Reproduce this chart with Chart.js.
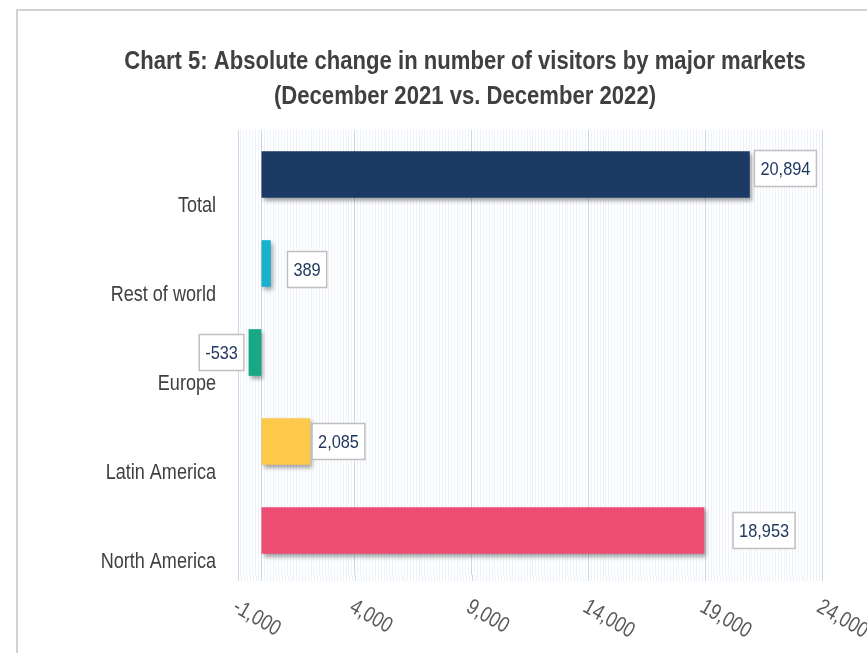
<!DOCTYPE html>
<html>
<head>
<meta charset="utf-8">
<script src="https://cdn.jsdelivr.net/npm/chart.js@4.4.1/dist/chart.umd.min.js"></script>
<style>
  html, body { margin: 0; padding: 0; background: #ffffff; overflow: hidden; }
  #frame { position: absolute; left: 16px; top: 9px; width: 900px; height: 700px;
           border-top: 2px solid #d2d2d2; border-left: 2px solid #d2d2d2; box-sizing: border-box; }
  #c { position: absolute; left: 0; top: 0; }
</style>
</head>
<body>
<div id="frame"></div>
<canvas id="c" width="867" height="653"></canvas>
<script>
const titleLines = ['Chart 5: Absolute change in number of visitors by major markets',
                    '(December 2021 vs. December 2022)'];
const categories = ['Total', 'Rest of world', 'Europe', 'Latin America', 'North America'];
const values = [20894, 389, -533, 2085, 18953];
const tickValues = [-1000, 4000, 9000, 14000, 19000, 24000];
const tickLabels = ['-1,000', '4,000', '9,000', '14,000', '19,000', '24,000'];

const SANS = '"Liberation Sans", Arial, sans-serif';
const NARROW_SCALE = 0.82;

// draw horizontally condensed text (Arial Narrow look-alike)
function narrowText(ctx, txt, x, y, align, sx) {
  ctx.save();
  ctx.translate(x, y);
  ctx.scale(sx, 1);
  ctx.textAlign = align;
  ctx.fillText(txt, 0, 0);
  ctx.restore();
}

const titlePlugin = {
  id: 'narrowTitle',
  afterDraw(chart) {
    const ctx = chart.ctx;
    ctx.save();
    ctx.font = 'bold 26px ' + SANS;
    ctx.fillStyle = '#404040';
    ctx.textBaseline = 'middle';
    const cx = 465;
    narrowText(ctx, titleLines[0], cx, 62, 'center', 0.85);
    narrowText(ctx, titleLines[1], cx, 97, 'center', 0.85);
    ctx.restore();
  }
};

const gridExtend = {
  id: 'gridExtend',
  beforeDatasetsDraw(chart) {
    const xs = chart.scales.x, ca = chart.chartArea, ctx = chart.ctx;
    ctx.save();
    xs.ticks.forEach(t => {
      const px = Math.round(xs.getPixelForValue(t.value)) + 0.5;
      const major = ((t.value + 1000) % 5000 === 0) || t.value === 0;
      ctx.strokeStyle = major ? '#c9d7ee' : 'rgba(205,218,238,0.35)';
      ctx.lineWidth = 1;
      ctx.beginPath(); ctx.moveTo(px, ca.bottom); ctx.lineTo(px, ca.bottom + 6); ctx.stroke();
    });
    ctx.restore();
    ctx.save();
    ctx.shadowColor = 'rgba(0,0,0,0.35)';
    ctx.shadowBlur = 4;
    ctx.shadowOffsetX = 2;
    ctx.shadowOffsetY = 3;
  },
  afterDatasetsDraw(chart) {
    chart.ctx.restore();
  }
};

const valueBoxes = {
  id: 'valueBoxes',
  afterDatasetsDraw(chart, args, opts) {
    const ctx = chart.ctx;
    const meta = chart.getDatasetMeta(0);
    ctx.save();
    ctx.font = '19px ' + SANS;
    meta.data.forEach((bar, i) => {
      const v = chart.data.datasets[0].data[i];
      const txt = v.toLocaleString('en-US');
      const w = ctx.measureText(txt).width * 0.86 + 12;
      const h = 36;
      const gap = opts.gaps[i];
      const cy = bar.y + opts.dys[i];
      const left = v >= 0 ? bar.x + gap : bar.x - gap - w;
      ctx.fillStyle = '#ffffff';
      ctx.fillRect(left, cy - h / 2, w, h);
      ctx.strokeStyle = '#bfbfbf';
      ctx.lineWidth = 1.5;
      ctx.strokeRect(left, cy - h / 2, w, h);
      ctx.fillStyle = '#21395e';
      ctx.textBaseline = 'middle';
      narrowText(ctx, txt, left + w / 2, cy + 1, 'center', 0.86);
    });
    ctx.restore();
  }
};

const axisLabels = {
  id: 'axisLabels',
  afterDraw(chart) {
    const xs = chart.scales.x, ys = chart.scales.y, ctx = chart.ctx;
    ctx.save();
    // category labels, set below the bar centre as in the original
    ctx.font = '22px ' + SANS;
    ctx.fillStyle = '#404040';
    ctx.textBaseline = 'middle';
    categories.forEach((c, i) => {
      const py = ys.getPixelForValue(i);
      narrowText(ctx, c, chart.chartArea.left - 22, py + 31, 'right', NARROW_SCALE);
    });
    // rotated value-axis labels
    ctx.font = '22px ' + SANS;
    ctx.fillStyle = '#595959';
    ctx.textBaseline = 'top';
    tickValues.forEach((v, i) => {
      const px = xs.getPixelForValue(v);
      ctx.save();
      ctx.translate(px + 2, 596);
      ctx.rotate(30 * Math.PI / 180);
      narrowText(ctx, tickLabels[i], 0, 0, 'left', NARROW_SCALE);
      ctx.restore();
    });
    ctx.restore();
  }
};

new Chart(document.getElementById('c'), {
  type: 'bar',
  data: {
    labels: categories,
    datasets: [{
      data: values,
      backgroundColor: ['#1b3a64', '#19b1cb', '#17a985', '#fdc94a', '#ee4d73'],
      borderWidth: 0,
      barThickness: 46
    }]
  },
  options: {
    indexAxis: 'y',
    responsive: false,
    devicePixelRatio: 1,
    animation: false,
    layout: { padding: { left: 0, right: 45, top: 130, bottom: 0 } },
    plugins: {
      legend: { display: false },
      tooltip: { enabled: false },
      title: { display: false },
      valueBoxes: { gaps: [5, 17, 5, 2, 29], dys: [-6, 6, 0, 0, 0] }
    },
    scales: {
      x: {
        type: 'linear',
        min: -1000,
        max: 24000,
        ticks: { display: false, stepSize: 125, maxTicksLimit: 1000 },
        border: { display: false },
        grid: {
          drawTicks: false,
          lineWidth: 1,
          color: ctx => {
            const v = ctx.tick ? ctx.tick.value : 0;
            const major = ((v + 1000) % 5000 === 0) || v === 0;
            return major ? '#c9d7ee' : 'rgba(205,218,238,0.35)';
          }
        },
        afterFit: s => { s.height = 78; }
      },
      y: {
        type: 'category',
        grid: { display: false, drawTicks: false },
        border: { display: false },
        ticks: { display: false },
        afterFit: s => { s.width = 238; }
      }
    }
  },
  plugins: [gridExtend, valueBoxes, axisLabels, titlePlugin]
});
</script>
</body>
</html>
